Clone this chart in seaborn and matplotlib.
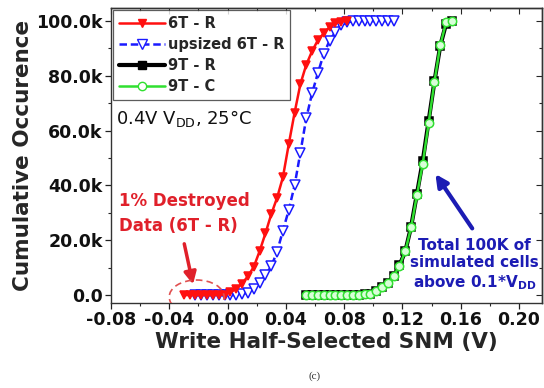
import numpy as np
import pandas as pd
import matplotlib
matplotlib.use("Agg")
import matplotlib.pyplot as plt
from matplotlib.patches import Ellipse
from matplotlib.ticker import MultipleLocator, FuncFormatter
from matplotlib.lines import Line2D
import seaborn as sns

# ---- data (cumulative cell counts, in thousands) ----
x_6t = [-0.030, -0.026, -0.022, -0.018, -0.014, -0.010, -0.006, -0.002, 0.002, 0.006,
        0.010, 0.014, 0.018, 0.022, 0.026, 0.030, 0.034, 0.038, 0.042, 0.046,
        0.050, 0.054, 0.058, 0.062, 0.066, 0.070, 0.074, 0.078, 0.082]
y_6t = [0.0, 0.0, 0.0, 0.0, 0.0, 0.0, 0.05, 0.2, 1.0, 2.3,
        4.2, 6.9, 10.3, 16.0, 22.5, 29.5, 35.5, 43.0, 55.0, 66.5,
        77.0, 84.0, 89.0, 93.0, 95.5, 97.8, 99.2, 99.8, 100.0]

x_up6t = [-0.022, -0.018, -0.014, -0.010, -0.006, -0.002, 0.002, 0.006, 0.010, 0.014,
          0.018, 0.022, 0.026, 0.030, 0.034, 0.038, 0.042, 0.046, 0.050, 0.054,
          0.058, 0.062, 0.066, 0.070, 0.074, 0.078, 0.082, 0.086, 0.090, 0.094,
          0.098, 0.102, 0.106, 0.110, 0.114]
y_up6t = [0.0, 0.0, 0.0, 0.0, 0.0, 0.0, 0.0, 0.05, 0.3, 0.9,
          2.2, 4.5, 7.3, 10.5, 15.8, 23.5, 31.0, 40.0, 52.0, 64.5,
          73.6, 81.0, 88.0, 92.8, 96.0, 98.4, 99.5, 99.9, 100.0, 100.0,
          100.0, 100.0, 100.0, 100.0, 100.0]

x_9t = [0.054, 0.058, 0.062, 0.066, 0.070, 0.074, 0.078, 0.082, 0.086, 0.090,
        0.094, 0.098, 0.102, 0.106, 0.110, 0.114, 0.118, 0.122, 0.126, 0.130,
        0.134, 0.138, 0.142, 0.146, 0.150, 0.154]
y_9t_r = [0.0, 0.0, 0.0, 0.0, 0.0, 0.0, 0.05, 0.1, 0.15, 0.2,
          0.3, 0.5, 1.5, 2.8, 4.3, 7.0, 10.8, 16.0, 25.0, 37.0,
          49.0, 63.5, 78.0, 91.0, 99.0, 100.0]
y_9t_c = [0.0, 0.0, 0.0, 0.0, 0.0, 0.0, 0.05, 0.1, 0.15, 0.2,
          0.3, 0.5, 1.5, 2.8, 4.5, 7.0, 10.7, 16.0, 24.7, 36.5,
          48.0, 62.7, 77.8, 91.2, 99.5, 100.0]

labels = ["6T - R", "upsized 6T - R", "9T - R", "9T - C"]
y_ticks = [0, 20, 40, 60, 80, 100]

df_6t = pd.DataFrame({"snm": x_6t, "count": y_6t})
df_up = pd.DataFrame({"snm": x_up6t, "count": y_up6t})
df_9r = pd.DataFrame({"snm": x_9t, "count": y_9t_r})
df_9c = pd.DataFrame({"snm": x_9t, "count": y_9t_c})

sns.set_theme(style="ticks")
plt.rcParams["font.family"] = ["DejaVu Sans"]
plt.rcParams["mathtext.fontset"] = "dejavusans"
plt.rcParams["axes.unicode_minus"] = False

fig = plt.figure(figsize=(5.44, 3.88), dpi=100)
ax = fig.add_axes([0.204, 0.219, 0.792, 0.760])

RED = "#ff1010"
BLUE = "#1a1aff"
GREEN = "#30e030"

styles = [
    dict(data=df_9r, color="black", lw=3.0, marker="s", ms=5.5, mfc="black", mec="black", ls="-", z=2),
    dict(data=df_9c, color=GREEN, lw=1.8, marker="o", ms=6.0, mfc="#d8ffd8", mec=GREEN, ls="-", z=3),
    dict(data=df_up, color=BLUE, lw=1.8, marker="v", ms=7.0, mfc="white", mec=BLUE, ls=(0, (3, 1.5)), z=4),
    dict(data=df_6t, color=RED, lw=1.8, marker="v", ms=6.0, mfc=RED, mec=RED, ls="-", z=5),
]
for s in styles:
    sns.lineplot(data=s["data"], x="snm", y="count", ax=ax, sort=False, estimator=None,
                 color=s["color"], linewidth=s["lw"], linestyle=s["ls"], marker=s["marker"],
                 markersize=s["ms"], markerfacecolor=s["mfc"], markeredgecolor=s["mec"],
                 markeredgewidth=1.1, zorder=s["z"], legend=False)

ax.set_xlim(-0.08, 0.2157)
ax.set_ylim(-2.9, 104.7)

ax.xaxis.set_major_locator(MultipleLocator(0.04))
ax.xaxis.set_minor_locator(MultipleLocator(0.02))
ax.set_yticks(y_ticks)
ax.yaxis.set_minor_locator(MultipleLocator(10))
ax.xaxis.set_major_formatter(FuncFormatter(lambda v, p: f"{v:.2f}"))
ax.yaxis.set_major_formatter(FuncFormatter(lambda v, p: "0.0" if abs(v) < 1e-9 else f"{v:.1f}k"))
ax.tick_params(which="major", direction="out", length=4, width=0.9, labelsize=12.5, pad=2, colors="#222222")
ax.tick_params(which="minor", direction="out", length=2.5, width=0.8)
for lab in ax.get_xticklabels() + ax.get_yticklabels():
    lab.set_fontweight("bold")
    lab.set_color("#111111")

# mirrored inward ticks on top and right
top = ax.secondary_xaxis("top")
top.xaxis.set_major_locator(MultipleLocator(0.04))
top.xaxis.set_minor_locator(MultipleLocator(0.02))
top.tick_params(which="major", direction="in", length=4, width=0.8, labeltop=False)
top.tick_params(which="minor", direction="in", length=2.5, width=0.8)
right = ax.secondary_yaxis("right")
right.set_yticks(y_ticks)
right.yaxis.set_minor_locator(MultipleLocator(10))
right.tick_params(which="major", direction="in", length=4, width=0.8, labelright=False)
right.tick_params(which="minor", direction="in", length=2.5, width=0.8)

for sp in ax.spines.values():
    sp.set_color("#333333")
    sp.set_linewidth(1.0)
for sa in (top, right):
    for sp in sa.spines.values():
        sp.set_color("#333333")
        sp.set_linewidth(1.0)

ax.set_xlabel("Write Half-Selected SNM (V)", fontsize=15.5, fontweight="bold", labelpad=2)
ax.set_ylabel("Cumulative Occurence", fontsize=15.5, fontweight="bold", labelpad=2)

# legend
handles = [
    Line2D([], [], color=RED, lw=1.8, marker="v", ms=6, mfc=RED, mec=RED),
    Line2D([], [], color=BLUE, lw=1.8, ls=(0, (3, 1.5)), marker="v", ms=7, mfc="white", mec=BLUE),
    Line2D([], [], color="black", lw=3.0, marker="s", ms=5.5, mfc="black", mec="black"),
    Line2D([], [], color=GREEN, lw=1.8, marker="o", ms=6, mfc="white", mec=GREEN),
]
leg = ax.legend(handles, labels, loc="upper left", bbox_to_anchor=(0.004, 0.995),
                prop=dict(size=10.5, weight="bold"), handlelength=3.2, handletextpad=0.15,
                labelspacing=0.42, borderpad=0.42, borderaxespad=0.0, frameon=True, fancybox=False)
leg.get_frame().set_edgecolor("#333333")
leg.get_frame().set_linewidth(0.9)

ax.text(-0.0765, 64.6, r"0.4V V$_{\rm DD}$, 25°C", fontsize=13, ha="left", va="center", color="#111111")

# destroyed-data annotation
ax.add_patch(Ellipse((-0.0212, -0.7), 0.0377, 12.4, fill=False, ls=(0, (4, 2.5)),
                     edgecolor="#e05050", lw=1.2, zorder=6))
ax.text(-0.0748, 29.7, "1% Destroyed\nData (6T - R)", fontsize=12, fontweight="bold",
        color="#e0202a", ha="left", va="center", linespacing=1.5)
ax.annotate("", xy=(-0.0233, 2.9), xytext=(-0.0301, 19.7),
            arrowprops=dict(arrowstyle="-|>,head_length=0.6,head_width=0.3", color="#e0202a", lw=2.5))

# population annotation
ax.text(0.1695, 11.1, "Total 100K of\nsimulated cells\nabove 0.1*V$_{\\mathbf{DD}}$", fontsize=11,
        fontweight="bold", color="#1c1cb4", ha="center", va="center", linespacing=1.2)
ax.annotate("", xy=(0.1416, 45.0), xytext=(0.169, 23.5),
            arrowprops=dict(arrowstyle="-|>,head_length=0.6,head_width=0.3", color="#1c1cb4", lw=3.0))

fig.text(315 / 544, 1 - 376 / 388, "(c)", fontsize=8, family="Liberation Serif",
         ha="center", va="center", color="#333333")

fig.savefig("out.png", dpi=100, facecolor="white")
